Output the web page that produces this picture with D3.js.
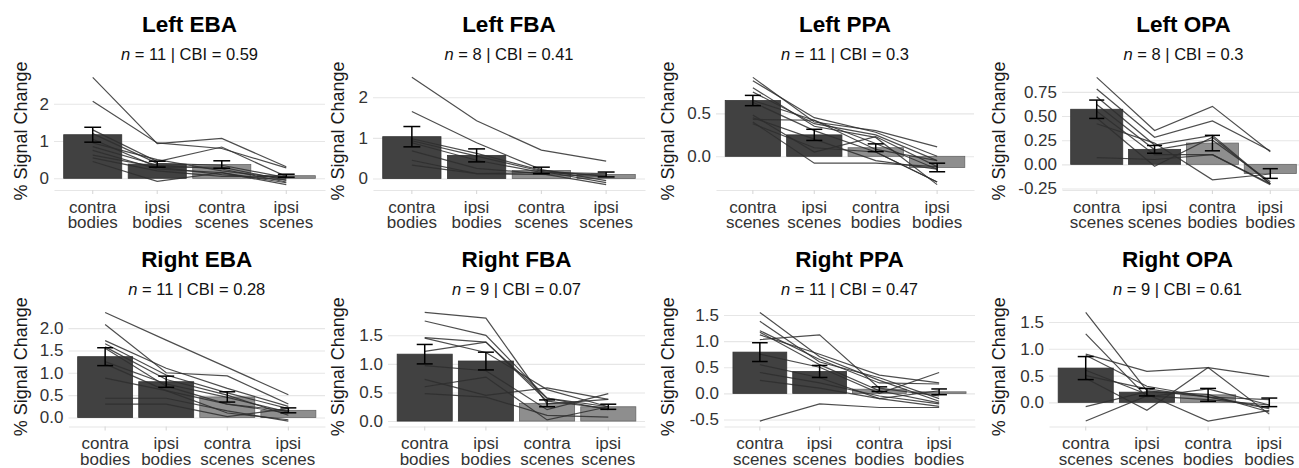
<!DOCTYPE html>
<html>
<head>
<meta charset="utf-8">
<script src="https://cdnjs.cloudflare.com/ajax/libs/d3/7.8.5/d3.min.js"></script>
<style>
    body { margin: 0; background: #fff; }
    svg { display: block; font-family: 'Liberation Sans', Arial, Helvetica, sans-serif; }
    .panel-title { font-size: 22.5px; font-weight: bold; fill: #000; text-anchor: middle; }
    .panel-sub { font-size: 16.5px; fill: #111; text-anchor: middle; }
    .y-title { font-size: 18px; fill: #1a1a1a; text-anchor: middle; }
</style>
</head>
<body>
<div id="chart"></div>
<script>
// ---- data ----
var panelTitles = ['Left EBA', 'Left FBA', 'Left PPA', 'Left OPA',
                   'Right EBA', 'Right FBA', 'Right PPA', 'Right OPA'];
var nSubjects = [11, 8, 11, 8, 11, 9, 11, 9];
var cbiValues = ['0.59', '0.41', '0.3', '0.3', '0.28', '0.07', '0.47', '0.61'];

var bodyCategories = [['contra', 'bodies'], ['ipsi', 'bodies'], ['contra', 'scenes'], ['ipsi', 'scenes']];
var sceneCategories = [['contra', 'scenes'], ['ipsi', 'scenes'], ['contra', 'bodies'], ['ipsi', 'bodies']];
var panelCategories = [bodyCategories, bodyCategories, sceneCategories, sceneCategories,
                       bodyCategories, bodyCategories, sceneCategories, sceneCategories];

// group means (bar heights)
var meanValues = [
    [1.17, 0.38, 0.37, 0.07],
    [1.03, 0.57, 0.20, 0.10],
    [0.65, 0.25, 0.10, -0.13],
    [0.57, 0.155, 0.22, -0.095],
    [1.36, 0.80, 0.46, 0.16],
    [1.17, 1.05, 0.31, 0.25],
    [0.79, 0.42, 0.08, 0.03],
    [0.64, 0.19, 0.14, 0.00]
];

// standard errors (error bar half-lengths)
var semValues = [
    [0.20, 0.08, 0.10, 0.04],
    [0.25, 0.16, 0.08, 0.06],
    [0.06, 0.065, 0.045, 0.05],
    [0.095, 0.04, 0.08, 0.05],
    [0.20, 0.125, 0.115, 0.055],
    [0.17, 0.155, 0.06, 0.045],
    [0.18, 0.115, 0.045, 0.055],
    [0.215, 0.07, 0.12, 0.08]
];

// individual subjects, one row per subject
var subjectsLeftEBA = [
    [2.71, 0.93, 1.07, 0.31], [2.07, 0.95, 0.80, 0.28], [1.30, 0.45, 0.84, 0.05],
    [1.20, 0.40, 0.35, 0.02], [1.05, 0.30, 0.30, -0.05], [0.95, 0.50, 0.20, 0.00],
    [0.85, 0.35, 0.25, -0.10], [0.75, 0.25, 0.15, -0.12], [0.62, 0.30, 0.10, -0.05],
    [0.55, 0.20, 0.05, 0.05], [0.45, -0.08, 0.15, -0.17]
];
var subjectsLeftFBA = [
    [2.49, 1.42, 0.70, 0.43], [1.65, 0.88, 0.22, -0.05], [0.98, 0.62, 0.20, 0.05],
    [0.93, 0.55, 0.18, -0.10], [0.88, 0.45, 0.15, 0.08], [0.68, 0.25, 0.12, -0.15],
    [0.45, 0.12, 0.15, 0.12], [0.33, 0.12, 0.10, 0.05]
];
var subjectsLeftPPA = [
    [0.92, 0.40, 0.30, 0.11], [0.88, 0.45, 0.28, 0.00], [0.80, 0.35, 0.22, -0.33],
    [0.75, 0.38, 0.25, -0.05], [0.65, 0.42, 0.15, -0.15], [0.63, 0.30, 0.05, -0.30],
    [0.48, 0.05, 0.23, -0.12], [0.45, 0.20, -0.05, -0.15], [0.43, 0.42, 0.08, -0.05],
    [0.40, -0.08, -0.08, -0.12], [0.38, 0.10, 0.05, -0.30]
];
var subjectsLeftOPA = [
    [0.90, 0.35, 0.60, 0.13], [0.78, 0.28, 0.45, 0.14], [0.70, 0.20, 0.30, -0.20],
    [0.62, 0.15, 0.25, -0.18], [0.55, 0.10, 0.10, -0.21], [0.48, -0.02, 0.28, -0.20],
    [0.42, 0.22, -0.16, -0.10], [0.07, 0.05, 0.10, -0.20]
];
var subjectsRightEBA = [
    [2.35, 1.73, 1.12, 0.51], [2.08, 1.00, 0.93, 0.30], [1.72, 1.10, 0.65, 0.25],
    [1.65, 0.95, 0.55, 0.20], [1.58, 0.85, 0.50, 0.05], [1.55, 0.70, 0.30, 0.15],
    [1.25, 0.75, 0.45, 0.12], [1.20, 0.60, 0.10, -0.05], [0.88, 0.60, 0.30, 0.10],
    [0.43, 0.43, 0.15, -0.08], [0.30, 0.30, 0.02, 0.20]
];
var subjectsRightFBA = [
    [1.90, 1.80, 0.30, 0.38], [1.75, 1.50, 0.40, 0.25], [1.46, 1.38, 0.35, 0.22],
    [1.45, 1.20, 0.55, 0.25], [1.22, 1.38, 0.40, 0.20], [0.97, 0.88, 0.20, 0.48],
    [0.73, 0.45, 0.58, 0.38], [0.60, 0.77, 0.02, 0.25], [0.48, 0.42, 0.10, 0.07]
];
var subjectsRightPPA = [
    [1.55, 0.70, 0.25, -0.15], [1.38, 0.60, 0.30, -0.10], [1.20, 0.65, 0.20, 0.18],
    [1.17, 0.55, 0.05, -0.18], [1.12, 0.75, 0.35, 0.20], [1.03, 1.12, 0.10, -0.05],
    [0.75, 0.50, 0.00, 0.40], [0.55, 0.30, -0.10, -0.25], [0.40, 0.20, -0.05, -0.20],
    [0.25, 0.10, -0.10, 0.05], [-0.53, -0.20, -0.27, -0.27]
];
var subjectsRightOPA = [
    [1.68, 0.22, 0.10, -0.10], [1.28, 0.10, 0.25, -0.05], [0.90, 0.58, 0.65, 0.48],
    [0.88, 0.30, 0.10, -0.12], [0.60, 0.15, -0.35, -0.15], [0.50, 0.25, 0.10, 0.05],
    [0.45, -0.15, 0.65, -0.22], [-0.08, 0.20, 0.15, -0.18], [-0.35, 0.12, 0.05, -0.05]
];
var subjectValues = [subjectsLeftEBA, subjectsLeftFBA, subjectsLeftPPA, subjectsLeftOPA,
                     subjectsRightEBA, subjectsRightFBA, subjectsRightPPA, subjectsRightOPA];

// y tick values and their labels
var yTickValues = [
    [0, 1, 2], [0, 1, 2], [0, 0.5], [-0.25, 0, 0.25, 0.5, 0.75],
    [0, 0.5, 1, 1.5, 2], [0, 0.5, 1, 1.5], [-0.5, 0, 0.5, 1, 1.5], [0, 0.5, 1, 1.5]
];
var yTickLabels = [
    ['0', '1', '2'], ['0', '1', '2'], ['0.0', '0.5'], ['-0.25', '0.00', '0.25', '0.50', '0.75'],
    ['0.0', '0.5', '1.0', '1.5', '2.0'], ['0.0', '0.5', '1.0', '1.5'],
    ['-0.5', '0.0', '0.5', '1.0', '1.5'], ['0.0', '0.5', '1.0', '1.5']
];

// ---- layout ----
var width = 1299, height = 468;
var plotLeft = [54, 373, 716, 1062, 68.5, 388, 724, 1049];
var plotRight = [325, 645, 974, 1305, 325, 645, 975, 1306];
var yTitleX = [21, 338, 668, 999];
var rowTop = [72, 307], rowBottom = [190, 426.5];

var darkFill = '#414141', lightFill = '#8e8e8e';
var gridColor = '#e6e6e6';

var svg = d3.select('#chart').append('svg')
    .attr('width', width)
    .attr('height', height);

panelTitles.forEach(function(title, i) {
    var row = Math.floor(i / 4), col = i % 4;
    var left = plotLeft[i], right = plotRight[i];
    var top = rowTop[row], bottom = rowBottom[row];
    var cats = panelCategories[i];
    var keys = cats.map(function(c) { return c.join(' '); });
    var means = meanValues[i], sems = semValues[i], subjects = subjectValues[i];

    var g = svg.append('g').attr('class', 'panel');

    // x scale mimics ggplot's discrete expansion
    var xScale = d3.scaleBand()
        .domain(keys)
        .range([left, right])
        .paddingInner(0.1)
        .paddingOuter(0.15);
    var bw = xScale.bandwidth();
    var cx = function(j) { return xScale(keys[j]) + bw / 2; };

    // y domain from all data plus 5% expansion
    var allVals = [0];
    subjects.forEach(function(s) { allVals = allVals.concat(s); });
    means.forEach(function(m, j) { allVals.push(m - sems[j], m + sems[j]); });
    var yMin = d3.min(allVals), yMax = d3.max(allVals);
    var pad = (yMax - yMin) * 0.05;
    var yScale = d3.scaleLinear()
        .domain([yMin - pad, yMax + pad])
        .range([bottom, top]);

    // y axis with gridlines
    var yAxis = d3.axisLeft(yScale)
        .tickValues(yTickValues[i])
        .tickFormat(function(d, j) { return yTickLabels[i][j]; })
        .tickSize(-(right - left))
        .tickPadding(5);
    var yG = g.append('g')
        .attr('transform', 'translate(' + left + ',0)')
        .call(yAxis);
    yG.select('.domain').remove();
    yG.selectAll('.tick line').attr('stroke', gridColor).attr('stroke-width', 1.1);
    yG.selectAll('.tick text')
        .attr('font-size', 17)
        .attr('font-family', "'Liberation Sans', Arial, sans-serif")
        .attr('fill', '#333');

    // x axis at panel bottom
    var xAxis = d3.axisBottom(xScale).tickSize(4).tickSizeOuter(0).tickPadding(4);
    var xG = g.append('g')
        .attr('transform', 'translate(0,' + bottom + ')')
        .call(xAxis);
    xG.select('.domain').attr('stroke', gridColor).attr('stroke-width', 1.1);
    xG.selectAll('.tick line').attr('stroke', '#d9d9d9').attr('stroke-width', 1.1);
    xG.selectAll('.tick text').each(function(d, j) {
        var t = d3.select(this).text('')
            .attr('font-size', 17)
            .attr('font-family', "'Liberation Sans', Arial, sans-serif")
            .attr('fill', '#333')
            .attr('y', 0)
            .attr('dy', null);
        t.append('tspan').attr('x', 0).attr('y', 22.5).text(cats[j][0]);
        t.append('tspan').attr('x', 0).attr('y', 38).text(cats[j][1]);
    });

    // bars
    g.append('g').selectAll('rect')
        .data(means)
        .enter()
        .append('rect')
        .attr('x', function(d, j) { return xScale(keys[j]); })
        .attr('width', bw)
        .attr('y', function(d) { return yScale(Math.max(0, d)); })
        .attr('height', function(d) { return Math.abs(yScale(d) - yScale(0)); })
        .attr('fill', function(d, j) { return j < 2 ? darkFill : lightFill; })
        .attr('stroke', function(d, j) { return j < 2 ? '#333' : '#666'; })
        .attr('stroke-width', 0.8);

    // individual subject lines
    var line = d3.line()
        .x(function(d, j) { return cx(j); })
        .y(function(d) { return yScale(d); });
    g.append('g').selectAll('path')
        .data(subjects)
        .enter()
        .append('path')
        .attr('d', line)
        .attr('fill', 'none')
        .attr('stroke', '#2e2e2e')
        .attr('stroke-opacity', 0.85)
        .attr('stroke-width', 1.2);

    // error bars
    var capHalf = bw * 0.145;
    var eb = g.append('g').selectAll('g')
        .data(means)
        .enter()
        .append('g')
        .attr('stroke', '#000')
        .attr('stroke-width', 1.5);
    eb.append('line')
        .attr('x1', function(d, j) { return cx(j); })
        .attr('x2', function(d, j) { return cx(j); })
        .attr('y1', function(d, j) { return yScale(d - sems[j]); })
        .attr('y2', function(d, j) { return yScale(d + sems[j]); });
    eb.append('line')
        .attr('x1', function(d, j) { return cx(j) - capHalf; })
        .attr('x2', function(d, j) { return cx(j) + capHalf; })
        .attr('y1', function(d, j) { return yScale(d - sems[j]); })
        .attr('y2', function(d, j) { return yScale(d - sems[j]); });
    eb.append('line')
        .attr('x1', function(d, j) { return cx(j) - capHalf; })
        .attr('x2', function(d, j) { return cx(j) + capHalf; })
        .attr('y1', function(d, j) { return yScale(d + sems[j]); })
        .attr('y2', function(d, j) { return yScale(d + sems[j]); });

    // titles
    var midX = (left + right) / 2;
    g.append('text')
        .attr('class', 'panel-title')
        .attr('x', midX)
        .attr('y', top - 40)
        .text(title);
    var sub = g.append('text')
        .attr('class', 'panel-sub')
        .attr('x', midX)
        .attr('y', top - 12);
    sub.append('tspan').attr('font-style', 'italic').text('n');
    sub.append('tspan').text(' = ' + nSubjects[i] + ' | CBI = ' + cbiValues[i]);

    // y axis title
    g.append('text')
        .attr('class', 'y-title')
        .attr('transform', 'translate(' + (yTitleX[col] + 6) + ',' + ((top + bottom) / 2) + ') rotate(-90)')
        .text('% Signal Change');
});
</script>
</body>
</html>
